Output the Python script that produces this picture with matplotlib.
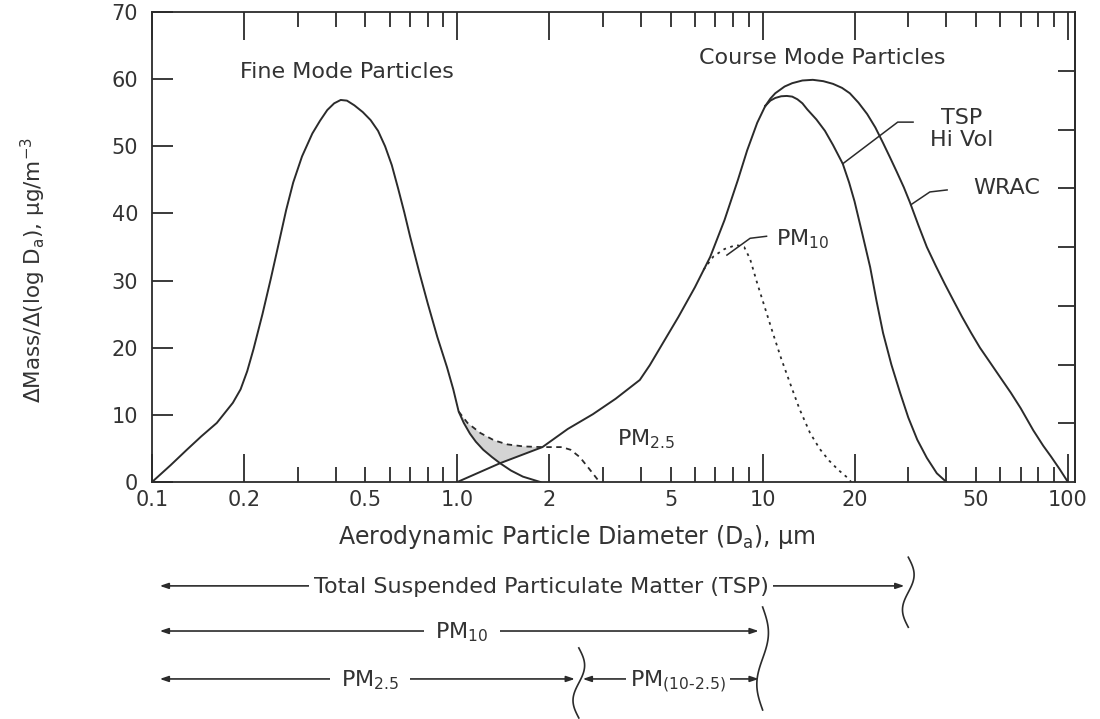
import numpy as np
import matplotlib.pyplot as plt
import matplotlib.transforms as mtransforms

plt.rcParams['font.family'] = ['DejaVu Sans']
plt.rcParams['mathtext.default'] = 'regular'

ink = '#2b2b2b'
text_ink = '#333333'

# fine mode curve (common to all samplers below ~1 um)
fine_x = [0.10, 0.115, 0.13, 0.145, 0.163, 0.184, 0.195, 0.205, 0.215, 0.23, 0.245,
          0.257, 0.275, 0.29, 0.31, 0.335, 0.355, 0.375, 0.395, 0.415, 0.435, 0.46,
          0.49, 0.52, 0.55, 0.58, 0.61, 0.64, 0.67, 0.70, 0.75, 0.80, 0.86, 0.925,
          0.97, 1.01, 1.05, 1.10, 1.15, 1.216, 1.30, 1.38, 1.50, 1.64, 1.87]
fine_y = [0.0, 2.5, 4.8, 6.8, 8.8, 11.8, 13.8, 16.5, 19.8, 25.0, 30.3,
          34.5, 40.5, 44.6, 48.5, 51.9, 53.8, 55.4, 56.4, 56.9, 56.8, 56.1,
          55.1, 53.9, 52.3, 50.0, 47.2, 43.7, 40.2, 36.6, 31.3, 26.6, 21.6, 17.1,
          13.8, 10.5, 8.8, 7.2, 6.0, 4.8, 3.7, 2.8, 1.7, 0.8, 0.0]

# coarse mode, rising part shared by TSP Hi Vol and WRAC
coarse_x = [1.0, 1.38, 1.9, 2.3, 2.78, 3.3, 3.96, 4.27, 4.7, 5.3, 6.0, 6.73, 7.5, 8.3,
            8.9, 9.6, 10.2]
coarse_y = [0.0, 2.8, 5.2, 7.9, 10.1, 12.4, 15.2, 17.4, 20.6, 24.6, 29.0, 33.5, 39.0, 45.0,
            49.4, 53.5, 56.0]

hivol_x = [10.2, 10.6, 11.0, 11.5, 12.0, 12.5, 13.0, 13.5, 14.0, 15.0, 16.0, 17.0, 18.3,
           19.2, 20.0, 21.2, 22.5, 23.6, 24.8, 26.4, 28.2, 30.0, 32.1, 34.5, 37.2, 40.0]
hivol_y = [56.0, 56.8, 57.2, 57.45, 57.5, 57.4, 57.0, 56.4, 55.5, 54.0, 52.3, 50.2, 47.4,
           44.6, 41.8, 37.0, 32.0, 27.0, 22.2, 17.5, 13.3, 9.6, 6.3, 3.6, 1.3, 0.0]

wrac_x = [10.2, 10.6, 11.0, 11.8, 12.5, 13.5, 14.6, 15.8, 17.0, 18.2, 19.3, 20.6, 22.0,
          23.4, 24.8, 26.1, 27.5, 29.0, 30.4, 32.4, 34.5, 36.9, 39.5, 42.2, 45.0, 48.2,
          51.5, 55.6, 60.0, 65.0, 70.0, 77.0, 83.0, 88.0, 94.0, 100.0]
wrac_y = [56.0, 57.1, 57.9, 58.9, 59.4, 59.8, 59.9, 59.7, 59.3, 58.7, 57.9, 56.5, 54.8,
          52.8, 50.5, 48.4, 46.2, 43.9, 41.6, 38.2, 35.0, 32.2, 29.5, 27.0, 24.6, 22.2,
          20.0, 17.8, 15.6, 13.3, 11.0, 7.7, 5.4, 3.8, 1.9, 0.0]

pm10_x = [6.4, 6.9, 7.5, 8.2, 8.7, 9.1, 9.6, 10.2, 10.8, 11.5, 12.3, 13.2, 14.3, 15.4,
          16.5, 17.7, 18.9, 19.5]
pm10_y = [31.6, 33.6, 34.7, 35.3, 35.0, 33.2, 29.6, 25.8, 22.2, 18.4, 14.7, 10.9, 7.3, 4.9,
          3.2, 1.8, 0.7, 0.0]

pm25_x = [1.01, 1.08, 1.19, 1.32, 1.46, 1.65, 1.9, 2.2, 2.35, 2.52, 2.7, 2.9]
pm25_y = [10.5, 8.8, 7.3, 6.2, 5.6, 5.3, 5.2, 5.2, 4.8, 3.7, 2.0, 0.2]

# axis ticks
major_ticks = [0.1, 0.2, 1, 2, 10, 20, 100]
major_labels = ['0.1', '0.2', '1.0', '2', '10', '20', '100']
minor_ticks = [0.3, 0.4, 0.5, 0.6, 0.7, 0.8, 0.9, 3, 4, 5, 6, 7, 8, 9,
               30, 40, 50, 60, 70, 80, 90]
minor_labels = ['', '', '0.5', '', '', '', '', '', '', '5', '', '', '', '',
                '', '', '50', '', '', '', '']
y_ticks = [0, 10, 20, 30, 40, 50, 60, 70]

# size cuts for the bottom range bars
tsp_cut, pm10_cut, pm25_cut = 30, 10, 2.5

fig = plt.figure(figsize=(11, 7.19), dpi=100)
ax = fig.add_axes([0.1382, 0.3296, 0.8391, 0.6537])
ax.set_xscale('log')
ax.set_xlim(0.1, 105.5)
ax.set_ylim(0, 70)

lw = 1.4
ax.plot(fine_x, fine_y, color=ink, lw=lw)
ax.plot(coarse_x, coarse_y, color=ink, lw=lw)
ax.plot(hivol_x, hivol_y, color=ink, lw=lw)
ax.plot(wrac_x, wrac_y, color=ink, lw=lw)
ax.plot(pm10_x, pm10_y, color=ink, lw=1.3, linestyle=(0, (1.5, 2.5)))
ax.plot(pm25_x, pm25_y, color=ink, lw=1.3, linestyle=(0, (3, 2.5)))

# shaded area between the PM2.5 cut and the lower envelope
px, py = np.array(pm25_x), np.array(pm25_y)
cx, cy = np.array(coarse_x), np.array(coarse_y)
fx, fy = np.array(fine_x), np.array(fine_y)
top = px <= 1.9
cpart = (cx >= 1.38) & (cx <= 1.9)
fpart = (fx >= 1.01) & (fx <= 1.38)
poly_x = np.concatenate([px[top], cx[cpart][::-1], fx[fpart][::-1]])
poly_y = np.concatenate([py[top], cy[cpart][::-1], fy[fpart][::-1]])
ax.fill(poly_x, poly_y, color='#d4d4d4', lw=0, zorder=1)

# ticks
ax.set_xticks(major_ticks, major_labels)
ax.set_xticks(minor_ticks, minor_labels, minor=True)
ax.set_yticks(y_ticks)
ax.tick_params(axis='x', which='major', direction='in', length=20, width=1.3,
               top=True, bottom=True, labelsize=15, pad=6, colors=ink, labelcolor=text_ink)
ax.tick_params(axis='x', which='minor', direction='in', length=11, width=1.3,
               top=True, bottom=True, labelsize=15, pad=6, colors=ink, labelcolor=text_ink)
ax.tick_params(axis='y', direction='in', length=15, width=1.3, left=True, right=False,
               labelsize=15, pad=10, colors=ink, labelcolor=text_ink)
for s in ax.spines.values():
    s.set_linewidth(1.3)
    s.set_color(ink)

sec = ax.secondary_yaxis('right')
right_ticks = np.arange(8.75, 70, 8.75)
sec.set_yticks(right_ticks, [''] * len(right_ticks))
sec.tick_params(direction='in', length=12, width=1.3, colors=ink)
sec.spines['right'].set_linewidth(1.3)
sec.spines['right'].set_color(ink)

ax.set_xlabel('Aerodynamic Particle Diameter (D$_{a}$), µm', fontsize=17, color=text_ink)
ax.xaxis.set_label_coords(0.46, -0.088)
ax.set_ylabel('ΔMass/Δ(log D$_{a}$), µg/m$^{-3}$', fontsize=15.5, color=text_ink)
ax.yaxis.set_label_coords(-0.113, 0.451)

# curve labels
ax.text(0.435, 61.1, 'Fine Mode Particles', fontsize=16, color=text_ink, ha='center', va='center')
ax.text(15.7, 63.2, 'Course Mode Particles', fontsize=16, color=text_ink, ha='center', va='center')
ax.text(45, 52.6, 'TSP\nHi Vol', fontsize=16, color=text_ink, ha='center', va='center',
        linespacing=1.15)
ax.text(63, 43.8, 'WRAC', fontsize=16, color=text_ink, ha='center', va='center')
ax.text(11.1, 35.3, 'PM$_{10}$', fontsize=16, color=text_ink, ha='left', va='baseline')
ax.text(3.33, 5.5, 'PM$_{2.5}$', fontsize=16, color=text_ink, ha='left', va='baseline')

# leader lines
ax.plot([18.3, 27.7, 31.1], [47.4, 53.6, 53.6], color=ink, lw=1.1)
ax.plot([30.6, 35.3, 40.2], [41.3, 43.2, 43.5], color=ink, lw=1.1)
ax.plot([7.64, 9.1, 10.3], [33.8, 36.3, 36.6], color=ink, lw=1.1)

# size range bars below the axis
trans = mtransforms.blended_transform_factory(ax.transData, ax.transAxes)
arrow = dict(arrowstyle='<|-|>,head_length=0.5,head_width=0.17', color=ink, lw=1.2,
             shrinkA=0, shrinkB=0)
x_start = 0.106
gap = 1.03


def range_bar(x0, x1, y, label, xtext, pad=4):
    ax.annotate('', xy=(x1, y), xytext=(x0, y), xycoords=trans, textcoords=trans,
                arrowprops=arrow, annotation_clip=False)
    ax.text(xtext, y - 0.016, label, transform=trans, fontsize=16, color=text_ink,
            ha='center', va='baseline', zorder=5, clip_on=False,
            bbox=dict(facecolor='white', edgecolor='none', pad=pad))


def brace(xc, y_top, y_bot):
    t = np.linspace(0, 1, 60)
    bx = xc * 10 ** (0.019 * np.sin(2 * np.pi * t))
    by = y_top - t * (y_top - y_bot)
    ax.plot(bx, by, transform=trans, color=ink, lw=1.2, clip_on=False)


range_bar(x_start, tsp_cut / gap, -0.221, 'Total Suspended Particulate Matter (TSP)', 1.88, 3)
range_bar(x_start, pm10_cut / gap, -0.317, 'PM$_{10}$', 1.036, 8)
range_bar(x_start, pm25_cut / gap, -0.419, 'PM$_{2.5}$', 0.518, 8)
range_bar(pm25_cut * gap, pm10_cut / gap, -0.419, 'PM$_{(10\u20102.5)}$', 5.28, 3)

brace(tsp_cut, -0.160, -0.309)
brace(pm10_cut, -0.266, -0.485)
brace(pm25_cut, -0.353, -0.502)

fig.savefig('out.png', dpi=100)
